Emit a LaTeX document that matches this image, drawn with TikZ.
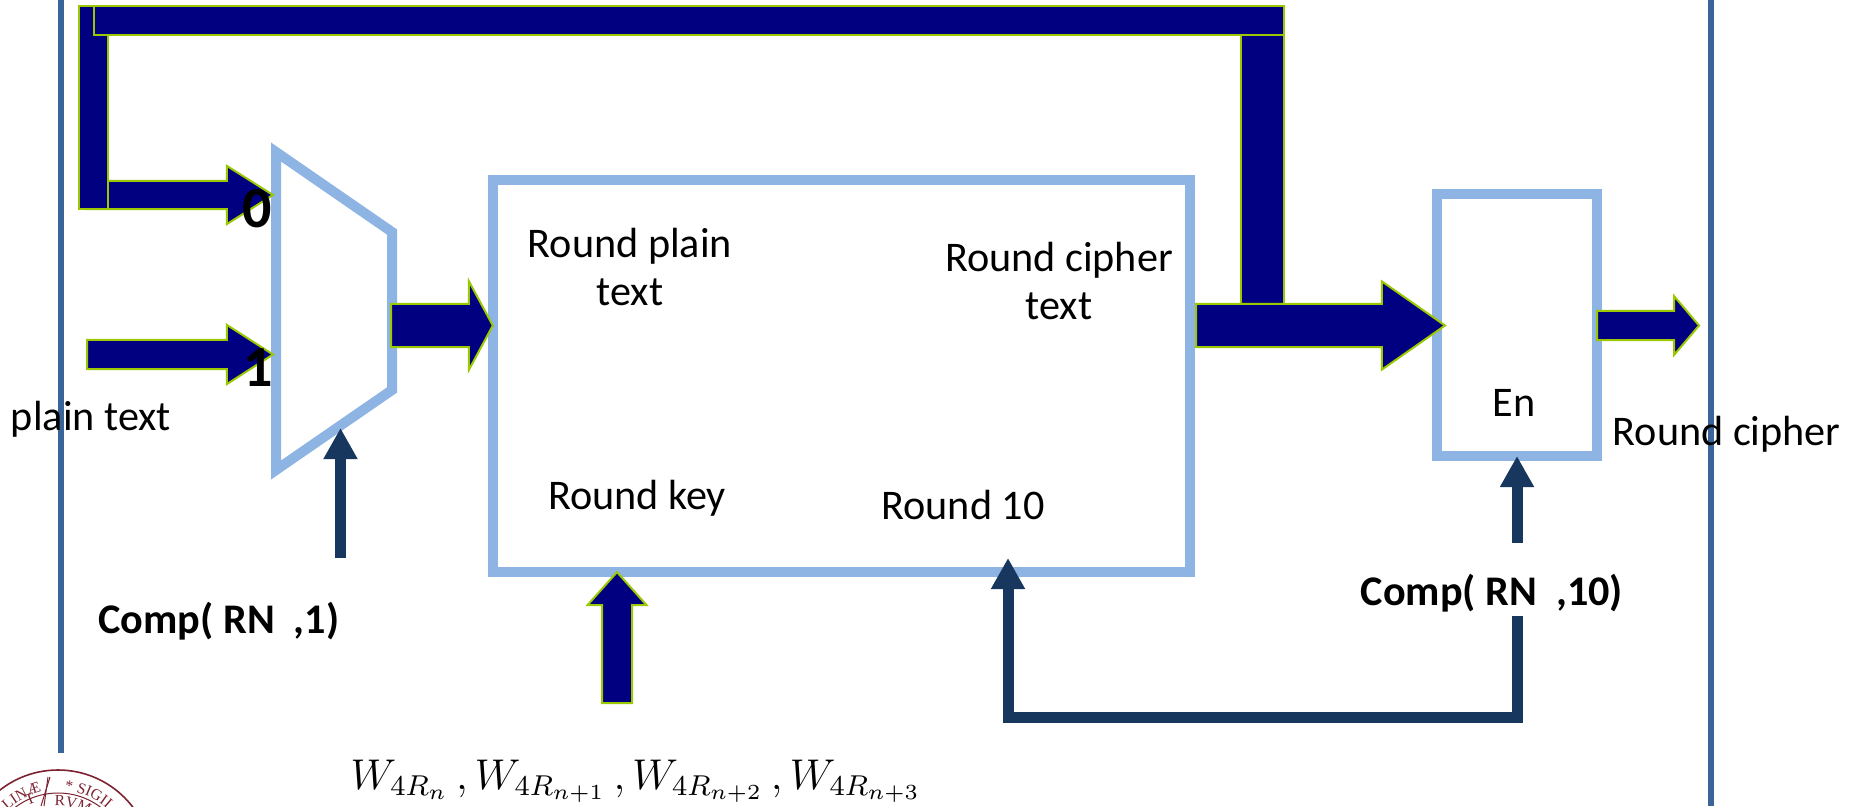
\documentclass[tikz,border=0pt]{standalone}
\usepackage{fontspec}
\setmainfont{Carlito}
\newfontfamily\sealfont{Liberation Serif}
\usetikzlibrary{calc,arrows.meta,decorations.text}

\definecolor{barnavy}{HTML}{000080}
\definecolor{barlime}{HTML}{9BC800}
\definecolor{boxblue}{HTML}{8EB4E3}
\definecolor{rulerblue}{HTML}{3A6599}
\definecolor{signavy}{HTML}{17375E}
\definecolor{sealred}{HTML}{7C2230}

\tikzset{
  rulerline/.style={draw=rulerblue,line width=0.065cm},
  fbox/.style={draw=boxblue,line width=0.1cm,line join=miter,inner sep=0pt,outer sep=0pt},
  flatarr/.style={fill=barnavy,draw=barlime,line width=0.02cm,line join=miter},
  sigarrow/.style={draw=signavy,line width=0.11cm,line join=miter,
    -{Triangle[length=0.31cm,width=0.32cm]}},
  lbl/.style={font=\fontsize{12}{13.6}\selectfont,align=center,inner sep=0pt},
  boldlbl/.style={font=\fontsize{12}{14.5}\selectfont\bfseries,inner sep=0pt},
  muxlbl/.style={font=\fontsize{16.5}{18}\selectfont\bfseries,inner sep=0pt},
  sealtext/.style={decorate,decoration={text along path,text align=center,
    text={|\fontsize{4.4}{5}\selectfont\sealfont\color{sealred}|#1}}}
}

% from, to, half shaft, head length, half head
\newcommand{\flatarrow}[5]{%
  \coordinate (hb) at ($(#2)!#4!(#1)$);
  \draw[flatarr] ($(#1)!#3!90:(#2)$) -- ($(hb)!#3!-90:(#1)$) -- ($(hb)!#5!-90:(#1)$)
    -- (#2) -- ($(hb)!#5!90:(#1)$) -- ($(hb)!#3!90:(#1)$) -- ($(#1)!#3!-90:(#2)$) -- cycle;
}

\begin{document}
\begin{tikzpicture}[x=0.01cm,y=-0.01cm]
\useasboundingbox (0,0) rectangle (1849,806);

% Rulers
\draw[rulerline] (61,0) -- (61,753);
\draw[rulerline] (1711,0) -- (1711,806);

% Seal
\begin{scope}
\clip (0,760) rectangle (170,806);
\coordinate (seal) at (58,864);
\draw[sealred,line width=0.016cm] (seal) circle (94);
\draw[sealred,line width=0.01cm] (seal) circle (71);
\path[sealtext={LINÆ}] ($(seal)+(-138:74)$) arc (-138:-98:74);
\path[sealtext={* SIGIL}] ($(seal)+(-92:74)$) arc (-92:-38:74);
\path[sealtext={RVM}] ($(seal)+(-100:58)$) arc (-100:-52:58);
\node[rotate=22,inner sep=0pt,font=\fontsize{4.4}{5}\selectfont\sealfont,text=sealred] (sealt) at (30,799) {T};
\draw[sealred,line width=0.01cm] (50,777) -- (41,806);
\draw[sealred,line width=0.01cm] (48,777) -- (44,806);
\end{scope}

% Boxes
\draw[fbox] (276,152) -- (392,232) -- (392,390) -- (276,470) -- cycle;
\node[fbox,minimum width=6.97cm,minimum height=3.92cm] (rnd) at (841.5,376) {};
\node[fbox,minimum width=1.6cm,minimum height=2.615cm] (en) at (1517,325.2) {};

% Free ends
\coordinate (muxin0) at (86,195);
\coordinate (muxtip0) at (273,195);
\coordinate (muxin1) at (87,354.5);
\coordinate (muxtip1) at (273,354.5);
\coordinate (muxout) at (391,325.5);
\coordinate (keyin) at (617,703);

% Feedback bars
\fill[barnavy] (1241,35) rectangle (1284,303);
\draw[barlime,line width=0.02cm] (1241,35) -- (1241,304);
\draw[barlime,line width=0.02cm] (1284,35) -- (1284,304);
\flatarrow{muxin0}{muxtip0}{0.14cm}{0.46cm}{0.29cm}
\draw[flatarr] (79,6) rectangle (108,209);
\draw[flatarr] (94,6) rectangle (1284,35);

% Block arrows
\flatarrow{muxin1}{muxtip1}{0.145cm}{0.46cm}{0.295cm}
\flatarrow{muxout}{rnd.west |- muxout}{0.215cm}{0.24cm}{0.445cm}
\coordinate (rndout) at (1196,325.5);
\coordinate (rndtip) at (1445,325.5);
\flatarrow{rndout}{rndtip}{0.215cm}{0.63cm}{0.44cm}
\coordinate (enout) at (1597,325.5);
\coordinate (entip) at (1699,325.5);
\flatarrow{enout}{entip}{0.145cm}{0.25cm}{0.295cm}
\flatarrow{keyin}{keyin |- rnd.south}{0.15cm}{0.33cm}{0.295cm}

% Select arrows
\coordinate (selone) at (340.5,558);
\coordinate (selonetip) at (340.5,428);
\coordinate (seltenup) at (1517,543);
\coordinate (seltendown) at (1517,616);
\draw[sigarrow] (selone) -- (selonetip);
\draw[sigarrow] (seltenup) -- (seltenup |- en.south);
\draw[sigarrow] (seltendown) -- (1517,717.5) -- (1008,717.5) -- (1008,558);

% Labels
\node[lbl] (plain) at (91,419) {plain text};
\node[muxlbl] (zero) at (257,209) {0};
\node[muxlbl] (one) at (258,368) {1};
\node[lbl] (rplain) at (630,267) {Round plain\\text};
\node[lbl] (rcipher) at (1059,281) {Round cipher\\text};
\node[lbl] (rkey) at (637,498) {Round key};
\node[lbl] (rten) at (963,505) {Round 10};
\node[lbl] (enlbl) at (1514,403) {En};
\node[lbl,anchor=west] (cipherout) at (1612,434) {Round cipher};
\node[boldlbl] (compone) at (219,621) {Comp( RN\ \ ,1)};
\node[boldlbl] (compten) at (1492,593) {Comp( RN\ \ ,10)};
\node[inner sep=0pt,font=\fontsize{11.8}{14}\selectfont] (words) at (636,781)
  {\scalebox{1.02}{$W_{4R_n}\,,W_{4R_{n+1}}\,,W_{4R_{n+2}}\,,W_{4R_{n+3}}$}};
\end{tikzpicture}
\end{document}
